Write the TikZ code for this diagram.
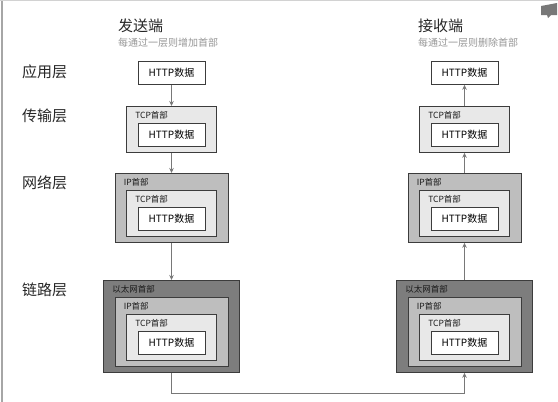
\documentclass[tikz,border=0pt]{standalone}
\usepackage{fontspec}
\setmainfont{Noto Sans CJK SC}
\usepackage{tikz}
\usetikzlibrary{arrows.meta, positioning}
\definecolor{boxline}{RGB}{60, 60, 60}
\definecolor{tcpgray}{RGB}{232, 232, 232}
\definecolor{ipgray}{RGB}{190, 190, 190}
\definecolor{ethgray}{RGB}{125, 125, 125}
\definecolor{flowgray}{RGB}{120, 120, 120}
\definecolor{notegray}{RGB}{150, 150, 150}

\tikzset{
  layername/.style={font=\fontsize{15}{18}\selectfont, text=black!85, anchor=west, inner sep=0pt},
  coltitle/.style={font=\fontsize{15}{18}\selectfont, text=black!85, anchor=west, inner sep=0pt},
  colnote/.style={font=\fontsize{10}{12}\selectfont, text=notegray, anchor=west, inner sep=0pt},
  databox/.style={draw=boxline, fill=white, line width=0.8pt, minimum width=67pt, minimum height=23pt, inner sep=0pt, font=\fontsize{10}{12}\selectfont},
  tcpbox/.style={draw=boxline, fill=tcpgray, line width=0.8pt, minimum width=90pt, minimum height=46pt, inner sep=0pt},
  ipbox/.style={draw=boxline, fill=ipgray, line width=0.8pt, minimum width=113pt, minimum height=69pt, inner sep=0pt},
  ethbox/.style={draw=boxline, fill=ethgray, line width=0.8pt, minimum width=136pt, minimum height=92pt, inner sep=0pt},
  hdrlabel/.style={font=\fontsize{8.5}{10}\selectfont, text=black!90, anchor=west, inner sep=0pt},
  flow/.style={draw=flowgray, line width=1pt, -{Stealth[length=5pt, width=4.5pt]}}
}

\begin{document}
\begin{tikzpicture}[x=1pt, y=-1pt]
  \useasboundingbox (0,0) rectangle (558,402);
  % screenshot frame and corner icon
  \draw[gray!70, line width=1.5pt] (2,0) -- (2,402);
  \draw[gray!35] (0,0.5) -- (558,0.5);
  \fill[flowgray] (541,6) -- (557,3) -- (557,15) -- (551,15) -- (548,18) -- (547,15) -- (541,15) -- cycle;

  % layer names
  \node[layername] (appName) at (22,72) {应用层};
  \node[layername] (tcpName) at (22,116) {传输层};
  \node[layername] (ipName) at (22,183) {网络层};
  \node[layername] (ethName) at (22,290) {链路层};

  % column titles
  \node[coltitle] (sendTitle) at (118,26) {发送端};
  \node[colnote] (sendNote) at (118,43) {每通过一层则增加首部};
  \node[coltitle] (recvTitle) at (418,26) {接收端};
  \node[colnote] (recvNote) at (418,43) {每通过一层则删除首部};

  \foreach \s/\cx in {s/171.5, r/464.5} {
    % application
    \node[databox, anchor=north] (\s-app) at (\cx,61) {HTTP数据};
    % transport
    \node[tcpbox, anchor=north] (\s-tcp) at (\cx,106) {};
    \node[hdrlabel] (\s-tcp-hdr) at ([shift={(9pt,-9.5pt)}]\s-tcp.north west) {TCP首部};
    \node[databox, below=17pt of \s-tcp.north] (\s-tcp-data) {HTTP数据};
    % network
    \node[ipbox, anchor=north] (\s-ip) at (\cx,173) {};
    \node[hdrlabel] (\s-ip-hdr) at ([shift={(9pt,-9.5pt)}]\s-ip.north west) {IP首部};
    \node[tcpbox, below=17pt of \s-ip.north] (\s-ip-tcp) {};
    \node[hdrlabel] (\s-ip-tcp-hdr) at ([shift={(9pt,-9.5pt)}]\s-ip-tcp.north west) {TCP首部};
    \node[databox, below=17pt of \s-ip-tcp.north] (\s-ip-data) {HTTP数据};
    % link
    \node[ethbox, anchor=north] (\s-eth) at (\cx,280) {};
    \node[hdrlabel] (\s-eth-hdr) at ([shift={(9pt,-9.5pt)}]\s-eth.north west) {以太网首部};
    \node[ipbox, below=17pt of \s-eth.north] (\s-eth-ip) {};
    \node[hdrlabel] (\s-eth-ip-hdr) at ([shift={(9pt,-9.5pt)}]\s-eth-ip.north west) {IP首部};
    \node[tcpbox, below=17pt of \s-eth-ip.north] (\s-eth-tcp) {};
    \node[hdrlabel] (\s-eth-tcp-hdr) at ([shift={(9pt,-9.5pt)}]\s-eth-tcp.north west) {TCP首部};
    \node[databox, below=17pt of \s-eth-tcp.north] (\s-eth-data) {HTTP数据};
  }

  % sender goes down, receiver goes up
  \draw[flow] (s-app) -- (s-tcp);
  \draw[flow] (s-tcp) -- (s-ip);
  \draw[flow] (s-ip) -- (s-eth);
  \draw[flow] (s-eth.south) -- ++(0,21) -| (r-eth.south);
  \draw[flow] (r-eth) -- (r-ip);
  \draw[flow] (r-ip) -- (r-tcp);
  \draw[flow] (r-tcp) -- (r-app);
\end{tikzpicture}
\end{document}
